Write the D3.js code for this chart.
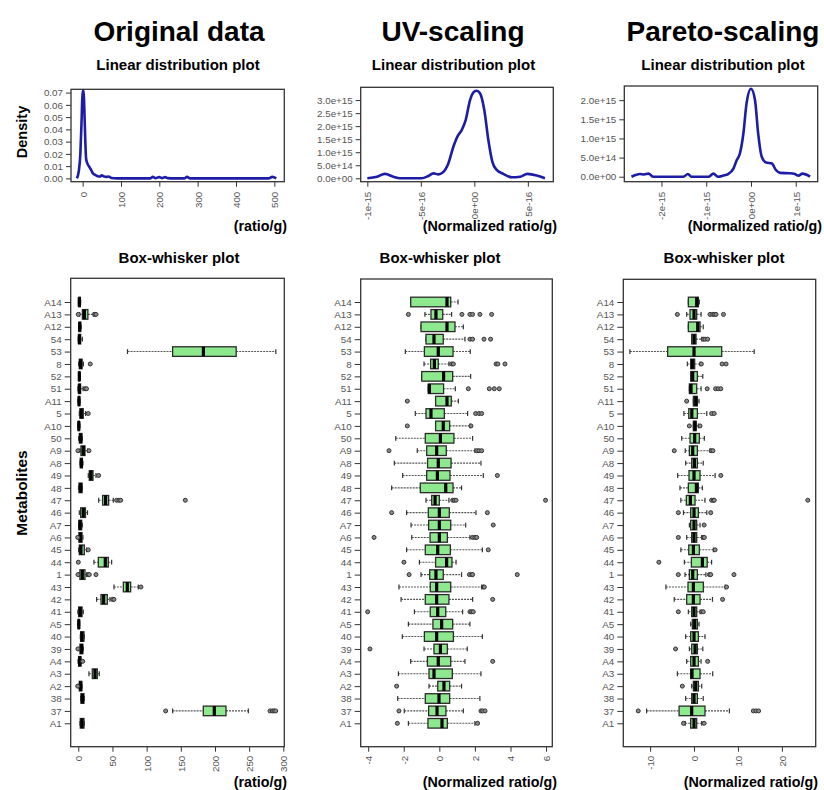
<!DOCTYPE html>
<html>
<head>
<meta charset="utf-8">
<script src="https://cdn.jsdelivr.net/npm/d3@7"></script>
<style>
  body { margin: 0; background: #fff; }
  svg { display: block; font-family: Arial, "Liberation Sans", sans-serif; }
</style>
</head>
<body>
<svg id="chart" width="824" height="790"></svg>
<script>
// 見出し
const panelTitles = ["Original data", "UV-scaling", "Pareto-scaling"];
const unitLabels = ["(ratio/g)", "(Normalized ratio/g)", "(Normalized ratio/g)"];

// 代謝物 (上から順)
const metabolites = ["A14", "A13", "A12", "54", "53", "8", "52", "51", "A11", "5", "A10", "50", "A9", "A8",
    "49", "48", "47", "46", "A7", "A6", "45", "44", "1", "43", "42", "41", "A5", "40", "39", "A4", "A3",
    "A2", "38", "37", "A1"];

// 密度曲線: 元データ
const densOrigX = [-15, -10, -6, -3, -1, 1, 3, 5, 7, 9, 12, 18, 22, 27, 32, 38, 45, 50, 56, 62,
    68, 75, 90, 176, 183, 190, 200, 207, 215, 222, 240, 265, 272, 280, 485, 495, 505];
const densOrigY = [0, 0.006, 0.02, 0.045, 0.065, 0.072, 0.068, 0.05, 0.03, 0.016, 0.0125, 0.009, 0.007, 0.004,
    0.003, 0.002, 0.0015, 0.0025, 0.0015, 0.0012, 0.0015, 0.0003, 0, 0, 0.0012, 0.0002, 0.001, 0.0002,
    0.001, 0.0002, 0, 0, 0.0012, 0, 0, 0.0012, 0];

// 密度曲線: UVスケーリング (x: 1e-16単位, y: 1e15単位)
const densUvX = [-10, -9.1, -8.35, -7.57, -6.95, -4.92, -4.3, -3.83, -3.36, -2.96, -2.43, -1.96, -1.56, -1.18,
    -0.81, -0.4, -0.03, 0.22, 0.53, 0.93, 1.31, 1.68, 2.09, 2.71, 3.49, 4.27, 4.95, 5.83, 6.6];
const densUvY = [0, 0.06, 0.17, 0.06, 0, 0, 0.09, 0.19, 0.15, 0.22, 0.57, 1.21, 1.62, 1.85, 2.23, 3.0, 3.32,
    3.36, 3.26, 2.62, 1.47, 0.64, 0.32, 0.17, 0.04, 0.06, 0.17, 0.11, 0];

// 密度曲線: Paretoスケーリング (x: 1e-15単位, y: 1e15単位)
const densParX = [-2.67, -2.48, -2.39, -2.29, -2.18, -1.51, -1.41, -1.33, -0.95, -0.84, -0.74, -0.62, -0.51,
    -0.39, -0.32, -0.25, -0.17, -0.1, 0, 0.09, 0.16, 0.24, 0.34, 0.46, 0.56, 0.65, 0.87, 0.98, 1.06, 1.15, 1.32];
const densParY = [0, 0.07, 0.06, 0.08, 0, 0, 0.07, 0, 0, 0.08, 0, 0.03, 0.07, 0.22, 0.43, 0.6, 1.13, 1.91,
    2.3, 2.0, 1.13, 0.52, 0.37, 0.35, 0.17, 0.1, 0.09, 0.07, 0.03, 0.08, 0];

// 箱ひげ図の統計量 [下ひげ, Q1, 中央値, Q3, 上ひげ] と外れ値 (metabolites の順)
const origStats = [
    [0.3, 0.8, 1.5, 2.8, 3.5], [2, 6, 9, 14, 22], [0.5, 1, 2, 3.5, 4.2], [0, 0.5, 1.5, 3.5, 6],
    [72, 138, 183, 231, 289], [0.5, 1.5, 3.5, 5.5, 7.5], [0.5, 0.8, 1.5, 2.2, 2.5], [-0.5, 0.5, 1.5, 3.4, 7],
    [-0.5, 0.5, 1, 2, 2.5], [1.5, 2.4, 4.4, 7.3, 10.7], [-0.5, 0, 0.8, 1.5, 2.5], [0.5, 1.5, 3.4, 5.4, 6],
    [2.4, 3.9, 7.3, 9.8, 13.7], [2.5, 3, 4.5, 6, 6.8], [14.6, 16.1, 18.5, 21.5, 25.9], [0.3, 1, 3.4, 5.5, 6],
    [29.8, 35.6, 40, 44.4, 51.2], [1.5, 3.5, 7.3, 10.5, 13.5], [0.5, 1, 2.5, 5, 5.9], [0.3, 1, 3, 5.5, 6.8],
    [0.5, 1.5, 3.9, 8.8, 12.2], [22.9, 29.3, 39.5, 43.9, 48.8], [1, 2.4, 5.9, 9.8, 12.2], [52.2, 65.9, 71.7, 76.6, 87.8],
    [26.8, 33.2, 37.1, 42.4, 46.3], [-0.5, 0.5, 2.9, 5.5, 7.3], [-0.5, 0, 0.8, 1.5, 2], [3, 3.4, 5.4, 8.3, 8.8],
    [1.5, 2.4, 4.9, 6.5, 7.3], [-0.3, 0.5, 2, 4, 4.9], [15.6, 20.5, 24.4, 27.8, 30.7], [0, 1.5, 3.5, 5, 5.4],
    [3.5, 3.9, 6, 8.3, 8.8], [138, 182.9, 199, 216.1, 248.8], [2.5, 2.9, 5.4, 8.3, 8.8]
];
const origOutliers = [
    [], [0, 24, 26], [], [], [], [17.5], [], [10, 12], [], [14.6], [], [], [-0.5, 15.6], [], [29.8], [],
    [56, 59.5, 62, 156.6], [], [], [-0.8], [14.6], [0], [-0.5, 14.6, 16.1, 25.9], [91.7], [50.2, 52.2], [], [], [],
    [-0.5], [6.5], [], [-0.8], [], [127.8, 280.5, 283.9, 286.3, 288.8], []
];

const uvStats = [
    [-1.61, -1.61, 0.43, 0.64, 1.05], [-0.81, -0.47, -0.19, 0.19, 0.69], [-1.03, -1.03, 0.43, 0.88, 1.35],
    [-0.75, -0.75, -0.3, 0.22, 1.44], [-1.91, -0.84, -0.06, 0.77, 1.74], [-0.86, -0.49, -0.28, -0.06, 0.54],
    [-0.99, -0.99, 0.24, 0.75, 1.76], [-0.62, -0.62, -0.56, 0.24, 0.9], [-0.21, -0.21, 0.43, 0.67, 1.07],
    [-1.35, -0.75, -0.47, 0.28, 1.59], [-0.21, -0.21, 0.22, 0.58, 1.72], [-2.45, -0.79, 0.06, 0.82, 1.87],
    [-1.24, -0.71, -0.15, 0.39, 2.0], [-2.53, -0.66, -0.06, 0.66, 2.34], [-2.06, -0.71, -0.11, 0.6, 2.47],
    [-2.68, -1.07, 0.36, 0.77, 1.25], [-0.75, -0.43, -0.24, 0.0, 0.54], [-1.84, -0.62, 0.0, 0.56, 2.06],
    [-1.59, -0.6, 0.0, 0.64, 1.48], [-1.55, -0.52, 0.0, 0.45, 1.72], [-1.84, -0.79, -0.09, 0.62, 2.42],
    [-1.12, -0.21, 0.41, 0.71, 0.94], [-1.03, -0.54, -0.19, 0.22, 1.25], [-2.27, -0.51, -0.15, 0.64, 2.38],
    [-2.15, -0.79, -0.15, 0.54, 1.87], [-1.4, -0.51, -0.09, 0.36, 1.31], [-1.74, -0.36, 0.13, 0.75, 1.72],
    [-2.08, -0.84, -0.15, 0.79, 2.42], [-0.86, -0.3, 0.06, 0.45, 1.57], [-1.61, -0.67, -0.06, 0.64, 1.44],
    [-2.3, -0.58, -0.3, 0.73, 2.34], [-0.58, -0.09, 0.26, 0.58, 1.25], [-2.34, -0.79, -0.02, 0.58, 2.28],
    [-1.97, -0.6, -0.13, 0.37, 1.35], [-1.74, -0.64, 0.15, 0.45, 2.0]
];
const uvOutliers = [
    [], [-1.74, 1.27, 1.72, 1.87, 2.28, 2.94], [], [1.72, 1.87, 2.51, 2.88], [], [0.69, 0.79, 3.19, 3.29, 3.69],
    [], [1.63, 2.81, 3.09, 3.37], [-1.8], [2.04, 2.23, 2.38], [-1.8, 1.78], [], [-2.83, 2.1, 2.23, 2.38], [],
    [3.26], [], [0.75, 0.84, 0.94, 5.97], [-2.68, 2.7], [3.03], [-3.67, 1.87, 2.0, 2.1], [2.75], [-1.99],
    [-1.7, 1.69, 1.82, 1.87, 4.38], [2.47, 2.53], [3.0], [-4.03, 1.72, 1.82, 1.91], [], [], [-3.9], [3.0], [],
    [-2.4], [], [-2.27, 2.34, 2.43, 2.57], [-2.36, 2.15]
];

const parStats = [
    [-1.29, -1.29, 0.61, 0.99, 1.2], [-1.67, -0.91, 0, 0.61, 1.6], [-1.29, -1.29, 0.84, 1.37, 2.1],
    [-0.53, -0.53, 0, 0.46, 1.75], [-14.6, -6.0, 0, 6.3, 13.7], [-1.52, -0.76, -0.38, 0.15, 1.37],
    [-0.76, -0.76, -0.3, 0.76, 2.0], [-1.06, -1.06, -0.68, 0.61, 1.6], [-0.15, -0.15, 0.38, 0.76, 1.14],
    [-2.3, -1.2, -0.5, 0.76, 2.9], [-0.15, -0.15, 0.23, 0.46, 0.99], [-2.8, -0.91, 0.15, 1.21, 2.35],
    [-2.0, -1.06, -0.3, 0.76, 3.64], [-1.9, -0.53, 0.08, 0.76, 2.1], [-3.72, -1.14, 0, 1.37, 4.8],
    [-3.2, -1.29, 0.53, 0.99, 1.9], [-3.0, -1.75, -0.84, 0.23, 2.5], [-2.4, -0.76, 0, 0.99, 2.9],
    [-1.06, -0.76, 0, 0.61, 1.37], [-1.67, -0.53, 0, 0.61, 1.75], [-3.0, -1.2, -0.15, 1.21, 4.4],
    [-2.2, -0.6, 1.9, 3.0, 4.0], [-2.05, -1.06, -0.3, 0.76, 2.7], [-6.4, -1.37, -0.15, 2.13, 7.1],
    [-4.5, -1.67, -0.15, 1.37, 4.2], [-1.29, -0.53, 0, 0.61, 1.37], [-0.76, -0.38, 0.15, 0.76, 1.14],
    [-1.9, -0.76, 0, 0.99, 2.5], [-1.06, -0.53, 0.23, 0.76, 2.0], [-1.67, -0.76, 0, 0.99, 1.6],
    [-3.8, -0.76, -0.46, 1.37, 4.25], [-0.53, -0.15, 0.38, 0.99, 1.75], [-1.9, -0.53, 0, 0.76, 2.1],
    [-10.8, -3.4, -0.53, 2.5, 8.05], [-2.0, -0.76, 0, 0.61, 1.75]
];
const parOutliers = [
    [], [-3.8, 3.64, 4.25, 4.63, 5.0, 6.7], [], [2.1, 2.5, 3.1], [], [1.67, 6.4, 7.3], [], [3.0, 4.9, 5.5, 6.1],
    [-1.67], [4.0, 4.6], [-1.06, 1.37], [], [-4.5, 3.9, 4.3], [], [6.1], [], [4.0, 4.4, 4.6, 25.9], [-3.57, 3.8],
    [2.3], [-3.57, 2.1, 2.35], [4.8], [-8.0], [-3.57, 3.5, 3.8, 9.1], [7.4], [6.5], [-3.57, 1.75, 2.1], [], [],
    [-4.2], [3.1], [], [-2.66], [], [-12.7, 13.5, 14.1, 14.7], [-2.4, 2.3]
];

// 目盛り
const origDensXTicks = [0, 100, 200, 300, 400, 500];
const origDensYTicks = [0, 0.01, 0.02, 0.03, 0.04, 0.05, 0.06, 0.07];
const uvDensXTicks = [-1e-15, -5e-16, 0, 5e-16];
const uvDensYTicks = [0, 5e14, 1e15, 1.5e15, 2e15, 2.5e15, 3e15];
const parDensXTicks = [-2e-15, -1e-15, 0, 1e-15];
const parDensYTicks = [0, 5e14, 1e15, 1.5e15, 2e15];
const origBoxTicks = [0, 50, 100, 150, 200, 250, 300];
const uvBoxTicks = [-4, -2, 0, 2, 4, 6];
const parBoxTicks = [-10, 0, 10, 20];

// R風の表記 (マイナスはハイフン、指数は2桁: 5.0e+14, -1e-15)
function rFmt(spec) {
    const f = d3.format(spec);
    return v => f(v).replace('\u2212', '-').replace(/e([+-])(\d)$/, 'e$10$2');
}

const svg = d3.select('#chart');
const FONT_TICK = 9.8;
const TICK_COLOR = '#555';

// パネル配置
const panels = [
    {
        title: panelTitles[0], unit: unitLabels[0], cx: 179, subX: 178, boxTitleX: 179,
        dens: { x: densOrigX, y: densOrigY, xMul: 1, yMul: 1, left: 71, right: 284.3, top: 89.3, bottom: 181.7,
            xd: [-30.4, 526], yd: [-0.0027, 0.0727], xt: origDensXTicks, yt: origDensYTicks,
            xf: rFmt('d'), yf: rFmt('.2f'), unitRight: 287 },
        box: { stats: origStats, out: origOutliers, left: 70.7, right: 284.3, top: 278.3, bottom: 746.7,
            xd: [-11.1, 301.4], xt: origBoxTicks, xf: rFmt('d'), unitRight: 287 }
    },
    {
        title: panelTitles[1], unit: unitLabels[1], cx: 453, subX: 453.5, boxTitleX: 440,
        dens: { x: densUvX, y: densUvY, xMul: 1e-16, yMul: 1e15, left: 360.7, right: 553.3, top: 87.3, bottom: 181.7,
            xd: [-1.062e-15, 0.738e-15], yd: [-0.13e15, 3.49e15], xt: uvDensXTicks, yt: uvDensYTicks,
            xf: rFmt('.0e'), yf: rFmt('.1e'), unitRight: 557 },
        box: { stats: uvStats, out: uvOutliers, left: 360.7, right: 552.3, top: 279, bottom: 746.7,
            xd: [-4.42, 6.35], xt: uvBoxTicks, xf: rFmt('d'), unitRight: 557 }
    },
    {
        title: panelTitles[2], unit: unitLabels[2], cx: 723, subX: 723, boxTitleX: 724,
        dens: { x: densParX, y: densParY, xMul: 1e-15, yMul: 1e15, left: 624.3, right: 817.7, top: 86, bottom: 181.7,
            xd: [-2.83e-15, 1.49e-15], yd: [-0.13e15, 2.37e15], xt: parDensXTicks, yt: parDensYTicks,
            xf: rFmt('.0e'), yf: rFmt('.1e'), unitRight: 822 },
        box: { stats: parStats, out: parOutliers, left: 623.3, right: 815.7, top: 279.3, bottom: 746.7,
            xd: [-16.1, 27.7], xt: parBoxTicks, xf: rFmt('d'), unitRight: 818 }
    }
];

function styleAxis(g) {
    g.select('.domain').remove();
    g.selectAll('.tick line').attr('stroke', '#333');
    g.selectAll('.tick text').attr('fill', TICK_COLOR).style('font-size', FONT_TICK + 'px');
}

// x軸ラベルを縦向きに
function rotateXLabels(g, off) {
    g.selectAll('.tick text')
        .attr('transform', 'rotate(-90)')
        .attr('text-anchor', 'end')
        .attr('x', -off)
        .attr('y', 0)
        .attr('dy', '0.35em');
}

function drawDensity(p) {
    const d = p.dens;
    const x = d3.scaleLinear().domain(d.xd).range([d.left, d.right]);
    const y = d3.scaleLinear().domain(d.yd).range([d.bottom, d.top]);
    const pts = d.x.map((v, i) => [v * d.xMul, d.y[i] * d.yMul]);

    svg.append('g')
        .attr('transform', `translate(0,${d.bottom})`)
        .call(d3.axisBottom(x).tickValues(d.xt).tickFormat(d.xf).tickSize(5))
        .call(styleAxis)
        .call(g => rotateXLabels(g, 10));

    svg.append('g')
        .attr('transform', `translate(${d.left},0)`)
        .call(d3.axisLeft(y).tickValues(d.yt).tickFormat(d.yf).tickSize(5).tickPadding(3))
        .call(styleAxis);

    svg.append('path')
        .datum(pts)
        .attr('fill', 'none')
        .attr('stroke', '#1c1ca6')
        .attr('stroke-width', 2.6)
        .attr('stroke-linejoin', 'round')
        .attr('d', d3.line().x(q => x(q[0])).y(q => y(q[1])).curve(d3.curveMonotoneX));

    svg.append('rect')
        .attr('x', d.left).attr('y', d.top)
        .attr('width', d.right - d.left).attr('height', d.bottom - d.top)
        .attr('fill', 'none').attr('stroke', '#333').attr('stroke-width', 1.3);

    svg.append('text')
        .attr('x', d.unitRight).attr('y', 231)
        .attr('text-anchor', 'end')
        .style('font-size', '14.3px').style('font-weight', 'bold')
        .text(p.unit);
}

function drawBox(p) {
    const b = p.box;
    const x = d3.scaleLinear().domain(b.xd).range([b.left, b.right]);
    const y = d3.scalePoint().domain(metabolites).range([302, 723.3]);
    const hh = 4.8; // 箱の半分の高さ

    svg.append('g')
        .attr('transform', `translate(0,${b.bottom})`)
        .call(d3.axisBottom(x).tickValues(b.xt).tickFormat(b.xf).tickSize(5))
        .call(styleAxis)
        .call(g => rotateXLabels(g, 9));

    svg.append('g')
        .attr('transform', `translate(${b.left},0)`)
        .call(d3.axisLeft(y).tickSize(6).tickPadding(3))
        .call(styleAxis);

    const rows = metabolites.map((m, i) => ({ m, s: b.stats[i], o: b.out[i] }));
    const row = svg.append('g').selectAll('g').data(rows).enter().append('g');

    // ひげ (破線)
    row.append('line')
        .attr('x1', r => x(r.s[0])).attr('x2', r => x(r.s[1]))
        .attr('y1', r => y(r.m)).attr('y2', r => y(r.m));
    row.append('line')
        .attr('x1', r => x(r.s[3])).attr('x2', r => x(r.s[4]))
        .attr('y1', r => y(r.m)).attr('y2', r => y(r.m));
    row.selectAll('line')
        .attr('stroke', '#555').attr('stroke-width', 1.1).attr('stroke-dasharray', '2,1');

    // ひげの端
    [0, 4].forEach(k => {
        row.append('line')
            .attr('x1', r => x(r.s[k])).attr('x2', r => x(r.s[k]))
            .attr('y1', r => y(r.m) - hh / 2).attr('y2', r => y(r.m) + hh / 2)
            .attr('stroke', '#333').attr('stroke-width', 1.2);
    });

    // 箱
    row.append('rect')
        .attr('x', r => x(r.s[1]))
        .attr('y', r => y(r.m) - hh)
        .attr('width', r => Math.max(0.5, x(r.s[3]) - x(r.s[1])))
        .attr('height', hh * 2)
        .attr('fill', '#8ee98e')
        .attr('stroke', '#2b2b2b')
        .attr('stroke-width', 1.3);

    // 中央値
    row.append('line')
        .attr('x1', r => x(r.s[2])).attr('x2', r => x(r.s[2]))
        .attr('y1', r => y(r.m) - hh).attr('y2', r => y(r.m) + hh)
        .attr('stroke', '#000').attr('stroke-width', 3.2);

    // 外れ値
    row.selectAll('circle')
        .data(r => r.o.map(v => ({ v, m: r.m })))
        .enter().append('circle')
        .attr('cx', o => x(o.v)).attr('cy', o => y(o.m))
        .attr('r', 2)
        .attr('fill', '#8a8a8a')
        .attr('stroke', '#333').attr('stroke-width', 1);

    svg.append('rect')
        .attr('x', b.left).attr('y', b.top)
        .attr('width', b.right - b.left).attr('height', b.bottom - b.top)
        .attr('fill', 'none').attr('stroke', '#333').attr('stroke-width', 1.3);

    svg.append('text')
        .attr('x', b.unitRight).attr('y', 787)
        .attr('text-anchor', 'end')
        .style('font-size', '14.3px').style('font-weight', 'bold')
        .text(p.unit);
}

panels.forEach(p => {
    svg.append('text')
        .attr('x', p.cx).attr('y', 41)
        .attr('text-anchor', 'middle')
        .style('font-size', '28px').style('font-weight', 'bold')
        .text(p.title);

    svg.append('text')
        .attr('x', p.subX).attr('y', 70)
        .attr('text-anchor', 'middle')
        .style('font-size', '15px').style('font-weight', 'bold')
        .text('Linear distribution plot');

    svg.append('text')
        .attr('x', p.boxTitleX).attr('y', 263)
        .attr('text-anchor', 'middle')
        .style('font-size', '15px').style('font-weight', 'bold')
        .text('Box-whisker plot');

    drawDensity(p);
    drawBox(p);
});

// 縦軸タイトル
svg.append('text')
    .attr('transform', 'translate(27,132) rotate(-90)')
    .attr('text-anchor', 'middle')
    .style('font-size', '14.5px').style('font-weight', 'bold')
    .text('Density');

svg.append('text')
    .attr('transform', 'translate(27,493) rotate(-90)')
    .attr('text-anchor', 'middle')
    .style('font-size', '15.5px').style('font-weight', 'bold')
    .text('Metabolites');
</script>
</body>
</html>
